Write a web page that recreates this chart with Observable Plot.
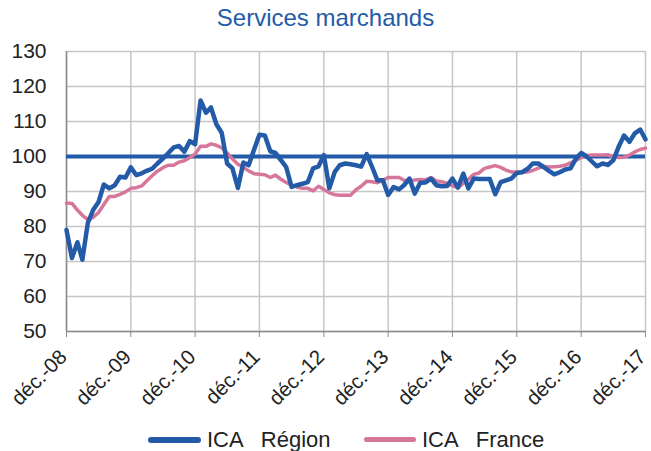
<!DOCTYPE html>
<html><head><meta charset="utf-8">
<script src="https://cdn.jsdelivr.net/npm/d3@7"></script>
<script src="https://cdn.jsdelivr.net/npm/@observablehq/plot@0.6"></script>
<style>
body{margin:0;background:#fff;font-family:"Liberation Sans",Arial,sans-serif;}
#wrap{position:relative;width:651px;height:451px;overflow:hidden;}
#title{position:absolute;left:0;top:4px;width:651px;text-align:center;color:#235ba8;font-size:24px;}
#legend{position:absolute;left:0;top:427px;width:651px;height:26px;font-size:22px;color:#222;white-space:pre;}
.sw{position:absolute;top:10px;height:6px;border-radius:3px;}
.lt{position:absolute;top:0;line-height:26px;}
</style></head><body>
<div id="wrap">
<div id="chart"></div>
<div id="title">Services marchands</div>
<div id="legend">
  <span class="sw" style="left:148px;width:53px;background:#235ba8"></span><span class="lt" style="left:207px">ICA   Région</span>
  <span class="sw" style="left:364px;width:52px;height:5px;background:#d6769b"></span><span class="lt" style="left:422px">ICA   France</span>
</div>
</div>
<script>
const seriesNames = ["ICA   Région", "ICA   France"];
const region = [79, 71, 75.5, 70.5, 81, 84.7, 87, 92, 90.9, 91.8, 94.2, 94, 96.9, 94.7, 95.2, 95.9, 96.5, 98, 99.4, 100.9,
  102.6, 103, 101.4, 104.4, 103.5, 116, 112.5, 114, 109.2, 106.8, 98, 96.6, 91, 98.3, 97.5, 102, 106.2, 106, 101.5, 101,
  99, 97, 91.3, 91.8, 92.2, 92.7, 96.6, 97.2, 100.4, 90.9, 95.6, 97.5, 98, 97.8, 97.5, 97.1, 100.7, 97, 93.2, 93.2,
  89, 91.3, 90.6, 91.8, 93.7, 89.4, 92.5, 92.6, 93.7, 91.8, 91.5, 91.6, 93.7, 91.1, 95.1, 90.9, 93.7, 93.6, 93.6, 93.6,
  89.2, 92.7, 93.2, 93.7, 95.3, 95.5, 96.5, 98, 98, 97, 95.9, 94.9, 95.5, 96.3, 96.6, 99.4, 101, 100, 98.5, 97.2,
  98, 97.6, 98.9, 102.7, 106, 104.2, 106.6, 107.7, 104.9];
const france = [86.7, 86.6, 84.7, 83.2, 82, 82.6, 84, 86.3, 88.6, 88.6, 89.2, 89.9, 90.9, 91.1, 91.6, 93, 94.5, 95.8, 96.8, 97.5,
  97.5, 98.4, 98.8, 99.7, 100.7, 102.9, 102.9, 103.6, 103.2, 102.5, 101, 99.3, 97.8, 96.9, 95.9, 95.1, 94.9, 94.8, 94, 94.7,
  93.5, 92.6, 91.8, 91.3, 90.9, 90.9, 90.2, 91.5, 90.6, 89.6, 89.1, 88.9, 88.9, 88.9, 90.5, 91.5, 92.9, 92.8, 92.5, 93.2,
  94, 94, 94, 93.2, 92.8, 93.3, 93.4, 93.3, 94, 93, 92.8, 92.3, 91.6, 91.1, 92.3, 93.5, 94.9, 95.3, 96.6, 97,
  97.4, 96.9, 96.1, 95.6, 95.6, 95.6, 95.6, 96, 96.7, 97.2, 97, 97.1, 97.2, 97.5, 98.2, 98.9, 99.7, 100.3, 100.4, 100.4,
  100.4, 100.5, 99.9, 99.7, 99.8, 100.4, 101.3, 102, 102.4];
const yTicks = [50, 60, 70, 80, 90, 100, 110, 120, 130];
const xTickLabels = ["déc.-08", "déc.-09", "déc.-10", "déc.-11", "déc.-12", "déc.-13", "déc.-14", "déc.-15", "déc.-16", "déc.-17"];
const refValue = 100;

const BLUE = "#235ba8", PINK = "#d6769b", GRID = "#c6c6c6";
const monthDate = i => new Date(Date.UTC(2008, 11 + i, 1));
const xTickDates = xTickLabels.map((_, i) => new Date(Date.UTC(2008 + i, 11, 1)));
const labelByTime = new Map(xTickDates.map((d, i) => [+d, xTickLabels[i]]));
const regionRows = region.map((v, i) => ({date: monthDate(i), value: v}));
const franceRows = france.map((v, i) => ({date: monthDate(i), value: v}));

const chart = Plot.plot({
  width: 651, height: 451,
  marginTop: 51, marginBottom: 120, marginLeft: 66, marginRight: 6,
  style: {fontFamily: "'Liberation Sans', Arial, sans-serif", background: "#fff", color: "#222"},
  x: {type: "utc", domain: [xTickDates[0], xTickDates[xTickDates.length - 1]], label: null},
  y: {domain: [50, 130], label: null},
  marks: [
    Plot.gridY(yTicks, {stroke: GRID, strokeOpacity: 1, strokeWidth: 1.5}),
    Plot.gridX(xTickDates, {stroke: GRID, strokeOpacity: 1, strokeWidth: 1.5}),
    Plot.ruleY([50], {stroke: "#8c8c8c", strokeWidth: 1.5}),
    Plot.ruleX([xTickDates[0]], {stroke: "#8c8c8c", strokeWidth: 1.5}),
    Plot.axisY(yTicks, {tickSize: 0, tickPadding: 20, fontSize: 21, fill: "#222", label: null, tickFormat: d => String(d)}),
    Plot.axisX(xTickDates, {tickSize: 6, stroke: "#8c8c8c", text: null, label: null}),
    Plot.axisX(xTickDates, {tickFormat: d => labelByTime.get(+d), tickRotate: -45, tickSize: 0, tickPadding: 10,
      dx: -3, dy: 12, fontSize: 20.5, fill: "#222", label: null}),
    Plot.ruleY([refValue], {stroke: BLUE, strokeWidth: 4}),
    Plot.line(franceRows, {x: "date", y: "value", stroke: PINK, strokeWidth: 3.5, curve: "linear"}),
    Plot.line(regionRows, {x: "date", y: "value", stroke: BLUE, strokeWidth: 4.5, curve: "linear"})
  ]
});
document.getElementById("chart").appendChild(chart);
</script>
</body></html>
